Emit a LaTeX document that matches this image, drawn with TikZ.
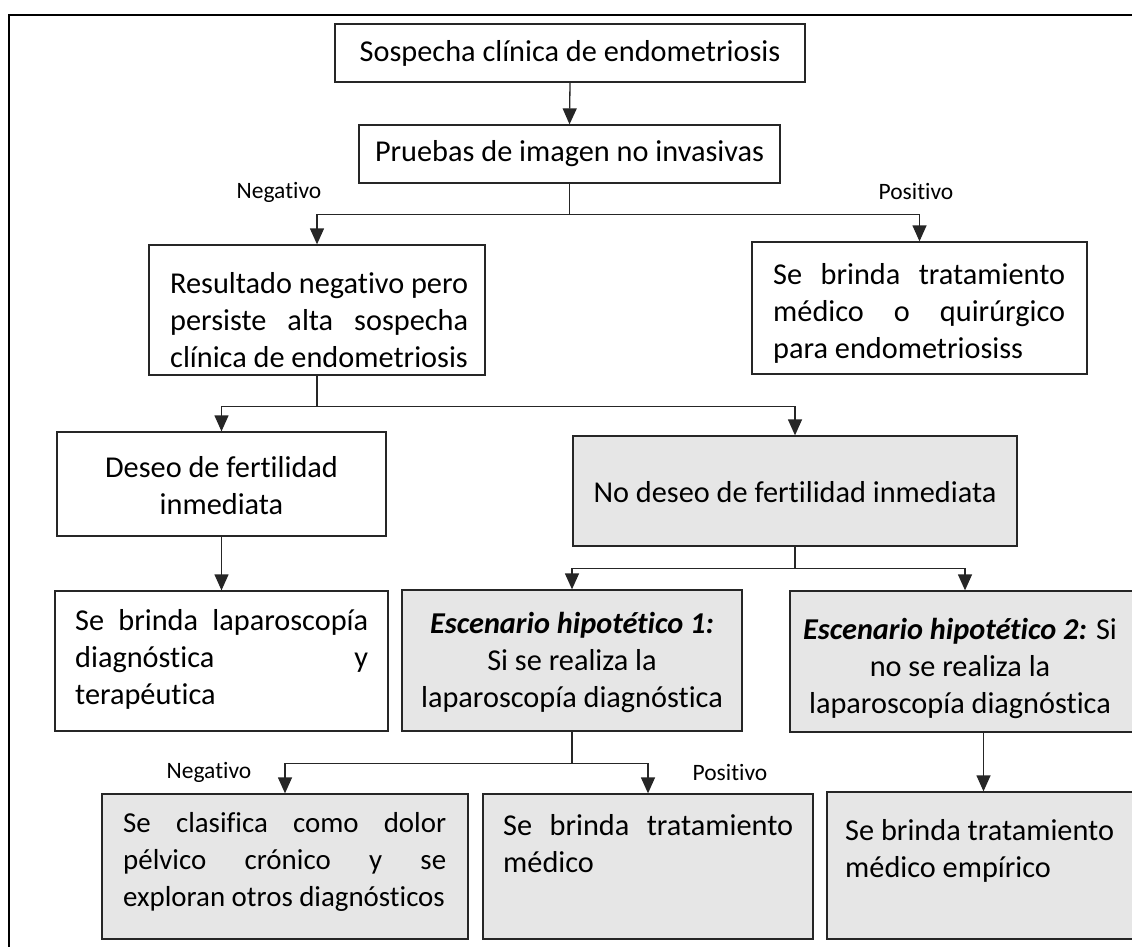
\documentclass[tikz,border=0pt]{standalone}
\usepackage{fontspec}
\setmainfont{Carlito}[Ligatures={NoCommon}]
\usetikzlibrary{arrows.meta}
\newcommand{\jl}[2]{\makebox[#1][s]{#2}}
\definecolor{boxgray}{HTML}{E6E6E6}
\definecolor{linec}{HTML}{262626}
\begin{document}
\begin{tikzpicture}[x=1pt,y=-1pt,
  box/.style={draw=linec,line width=1.3pt,rectangle,inner sep=0pt},
  gbox/.style={box,fill=boxgray},
  txt/.style={inner sep=0pt,font=\fontsize{30.3}{37}\selectfont,align=left,text=black},
  ctxt/.style={txt,align=center},
  lab/.style={inner sep=0pt,font=\fontsize{23.5}{28}\selectfont},
  conn/.style={draw=linec,line width=1.3pt},
  arr/.style={conn,-{Triangle[length=16pt,width=14pt]}}]
\clip (0,0) rectangle (1132,947);
\fill[white] (0,0) rectangle (1132,947);
\draw[line width=2pt,black] (9,15) rectangle (1160,975);
% boxes
\node[box,minimum width=470pt,minimum height=58pt] (b1) at (570,53) {};
\node[box,minimum width=421pt,minimum height=58pt] (b2) at (569.5,154) {};
\node[box,minimum width=336pt,minimum height=130pt] (b3) at (317,310) {};
\node[box,minimum width=335pt,minimum height=132pt] (b4) at (919.5,308) {};
\node[box,minimum width=329pt,minimum height=104pt] (b5) at (221.5,484) {};
\node[gbox,minimum width=444pt,minimum height=110pt] (b6) at (795,491) {};
\node[box,minimum width=333pt,minimum height=140pt] (b7) at (221.5,661) {};
\node[gbox,minimum width=340pt,minimum height=141pt] (b8) at (572,660.5) {};
\node[gbox,minimum width=350pt,minimum height=141pt] (b9) at (965,661.5) {};
\node[gbox,minimum width=366pt,minimum height=145pt] (b10) at (285,866.5) {};
\node[gbox,minimum width=330pt,minimum height=145pt] (b11) at (648,866.5) {};
\node[gbox,minimum width=313pt,minimum height=147pt] (b12) at (983.5,865.5) {};
% texts
\node[ctxt] (t1) at (570,53) {Sospecha clínica de endometriosis};
\node[ctxt] (t2) at (569.5,154) {Pruebas de imagen no invasivas};
\node[txt,anchor=west] (t3) at (170,320) {\jl{298pt}{Resultado negativo pero}\\\jl{298pt}{persiste alta sospecha}\\clínica de endometriosis};
\node[txt,anchor=west] (t4) at (773,313) {\jl{292pt}{Se brinda tratamiento}\\\jl{292pt}{médico o quirúrgico}\\para endometriosiss};
\node[ctxt] (t5) at (221.5,486) {Deseo de fertilidad\\inmediata};
\node[ctxt] (t6) at (795,492) {No deseo de fertilidad inmediata};
\node[txt,anchor=west] (t7) at (75,659) {\jl{293pt}{Se brinda laparoscopía}\\\jl{293pt}{diagnóstica y}\\terapéutica};
\node[ctxt] (t8) at (572,662) {{\bfseries\itshape Escenario hipotético 1:}\\Si se realiza la\\laparoscopía diagnóstica};
\node[ctxt] (t9) at (960,668) {{\bfseries\itshape Escenario hipotético 2:} Si\\no se realiza la\\laparoscopía diagnóstica};
\node[txt,anchor=west,font=\fontsize{28.9}{37}\selectfont] (t10) at (123,862) {\jl{323pt}{Se clasifica como dolor}\\\jl{323pt}{pélvico crónico y se}\\exploran otros diagnósticos};
\node[txt,anchor=west] (t11) at (503,843.5) {\jl{290pt}{Se brinda tratamiento}\\médico};
\node[txt,anchor=west] (t12) at (845,851) {Se brinda tratamiento\\médico empírico};
% labels
\node[lab] (l1) at (279,192) {Negativo};
\node[lab] (l2) at (916,192) {Positivo};
\node[lab] (l3) at (209,772) {Negativo};
\node[lab] (l4) at (730,772) {Positivo};
% connectors
\draw[arr] (b1.south) -- (b2.north);
\draw[conn] (b2.south) -- ++(0,31) coordinate (j1);
\draw[arr] (j1) -| (b3.north);
\draw[arr] (j1) -| (b4.north);
\draw[conn] (b3.south) -- ++(0,31) coordinate (j2);
\draw[arr] (j2) -| (b5.north);
\draw[arr] (j2) -| (b6.north);
\draw[arr] (b5.south) -- (b7.north);
\draw[conn] (b6.south) -- ++(0,22) coordinate (j3);
\draw[arr] (j3) -| (b8.north);
\draw[arr] (j3) -| (b9.north);
\draw[conn] (b8.south) -- ++(0,32) coordinate (j4);
\draw[arr] (j4) -| (b10.north);
\draw[arr] (j4) -| (b11.north);
\draw[arr] (b12.north |- b9.south) -- (b12.north);
\end{tikzpicture}
\end{document}
